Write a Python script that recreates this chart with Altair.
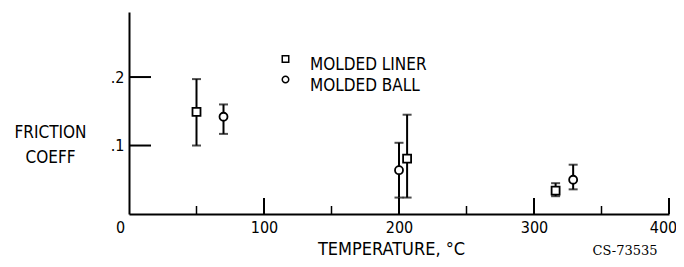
import altair as alt
import pandas as pd

# ---- data ----
series_names = ["MOLDED LINER", "MOLDED BALL"]

liner_temp = [50, 206, 316]
liner_mean = [0.149, 0.081, 0.034]
liner_low = [0.100, 0.024, 0.026]
liner_high = [0.197, 0.145, 0.045]

ball_temp = [70, 200, 329]
ball_mean = [0.142, 0.064, 0.050]
ball_low = [0.117, 0.024, 0.036]
ball_high = [0.160, 0.104, 0.072]

x_label_values = [0, 100, 200, 300, 400]
x_major_ticks = [100, 200, 300, 400]
x_minor_ticks = [50, 150, 250, 350]
y_tick_values = [0.1, 0.2]
y_title_lines = ["FRICTION", "COEFF"]
x_title = "TEMPERATURE, \u00b0C"
code_label = ["CS-73535"]

rows = []
for name, ts, ms, los, his in [
    (series_names[0], liner_temp, liner_mean, liner_low, liner_high),
    (series_names[1], ball_temp, ball_mean, ball_low, ball_high),
]:
    for t, m, lo, hi in zip(ts, ms, los, his):
        rows.append({"series": name, "temp": t, "mean": m, "low": lo, "high": hi})
df = pd.DataFrame(rows)

W, H = 540, 202
FONT = "DejaVu Sans Condensed, DejaVu Sans, sans-serif"

xscale = alt.Scale(domain=[0, 400], nice=False, zero=False)
yscale = alt.Scale(domain=[0, 0.295], nice=False, zero=False)
shape_scale = alt.Scale(domain=series_names, range=["square", "circle"])

x_axis = alt.Axis(
    values=x_label_values,
    ticks=False,
    tickSize=0,
    grid=False,
    domainColor="black",
    domainWidth=2,
    labelFont=FONT,
    labelFontSize=16,
    labelColor="black",
    labelPadding=5,
    labelFlush=False,
    labelOverlap=False,
    labelOffset={
        "condition": [
            {"test": "datum.value == 0", "value": -9},
            {"test": "datum.value == 400", "value": -6},
        ],
        "value": 0,
    },
    title=x_title,
    titleFont=FONT,
    titleFontSize=18,
    titleFontWeight="normal",
    titleColor="black",
    titleAlign="center",
    titleBaseline="middle",
    titleX=262,
    titleY=35,
)

y_axis = alt.Axis(
    values=y_tick_values,
    ticks=False,
    tickSize=0,
    grid=False,
    domainColor="black",
    domainWidth=2,
    labelFont=FONT,
    labelFontSize=16,
    labelColor="black",
    labelPadding=5,
    labelFlush=False,
    labelOverlap=False,
    labelExpr="'.' + round(datum.value * 10)",
    title=y_title_lines,
    titleFont=FONT,
    titleFontSize=17,
    titleFontWeight="normal",
    titleColor="black",
    titleAngle=0,
    titleAlign="center",
    titleBaseline="middle",
    titleLineHeight=25,
    titleX=-79,
    titleY=120,
)

base = alt.Chart(df)

err = base.mark_rule(color="black", strokeWidth=2).encode(
    x=alt.X("temp:Q", scale=xscale, axis=x_axis),
    y=alt.Y("low:Q", scale=yscale, axis=y_axis),
    y2="high:Q",
)

cap_low = base.mark_tick(orient="horizontal", color="black", size=9, thickness=2).encode(
    x=alt.X("temp:Q", scale=xscale),
    y=alt.Y("low:Q", scale=yscale),
)
cap_high = base.mark_tick(orient="horizontal", color="black", size=9, thickness=2).encode(
    x=alt.X("temp:Q", scale=xscale),
    y=alt.Y("high:Q", scale=yscale),
)

points = base.mark_point(
    filled=False, color="black", fill="white", fillOpacity=1, strokeWidth=1.8, size=64, opacity=1
).encode(
    x=alt.X("temp:Q", scale=xscale),
    y=alt.Y("mean:Q", scale=yscale),
    shape=alt.Shape("series:N", scale=shape_scale, legend=None),
)

# legend drawn by hand (symbol + label per series)
legend_layers = []
for i, name in enumerate(series_names):
    ldf = pd.DataFrame({"series": [name]})
    sym = alt.Chart(ldf).mark_point(
        filled=False, color="black", fill="white", fillOpacity=1, strokeWidth=1.5, size=42, opacity=1
    ).encode(
        x=alt.value(156.5),
        y=alt.value(47 + 20.5 * i),
        shape=alt.Shape("series:N", scale=shape_scale, legend=None),
    )
    lab = alt.Chart(ldf).mark_text(
        font=FONT, fontSize=17, align="left", baseline="middle", color="black"
    ).encode(
        x=alt.value(181),
        y=alt.value(53 + 20.5 * i),
        text="series:N",
    )
    legend_layers += [sym, lab]

# inward axis ticks
yticks = alt.Chart(pd.DataFrame({"low": y_tick_values})).mark_rule(
    color="black", strokeWidth=2
).encode(
    y=alt.Y("low:Q", scale=yscale),
    x=alt.value(0),
    x2=alt.value(22),
)
xmajor = alt.Chart(pd.DataFrame({"temp": x_major_ticks})).mark_rule(
    color="black", strokeWidth=2
).encode(
    x=alt.X("temp:Q", scale=xscale),
    y=alt.value(H),
    y2=alt.value(H - 16),
)
xminor = alt.Chart(pd.DataFrame({"temp": x_minor_ticks})).mark_rule(
    color="black", strokeWidth=1.5
).encode(
    x=alt.X("temp:Q", scale=xscale),
    y=alt.value(H),
    y2=alt.value(H - 8),
)

code = alt.Chart(pd.DataFrame({"t": code_label})).mark_text(
    font="DejaVu Serif, serif", fontSize=13, align="center", baseline="middle", color="black"
).encode(
    x=alt.value(496),
    y=alt.value(239),
    text="t:N",
)

chart = alt.layer(
    err, cap_low, cap_high, points, yticks, xmajor, xminor, code, *legend_layers
).properties(
    width=W,
    height=H,
    autosize=alt.AutoSizeParams(type="none"),
    padding={"left": 121, "top": 4, "right": 7, "bottom": 45},
    background="white",
).configure_view(stroke=None)

chart.save("out.html", embed_options={"renderer": "svg", "actions": False})
